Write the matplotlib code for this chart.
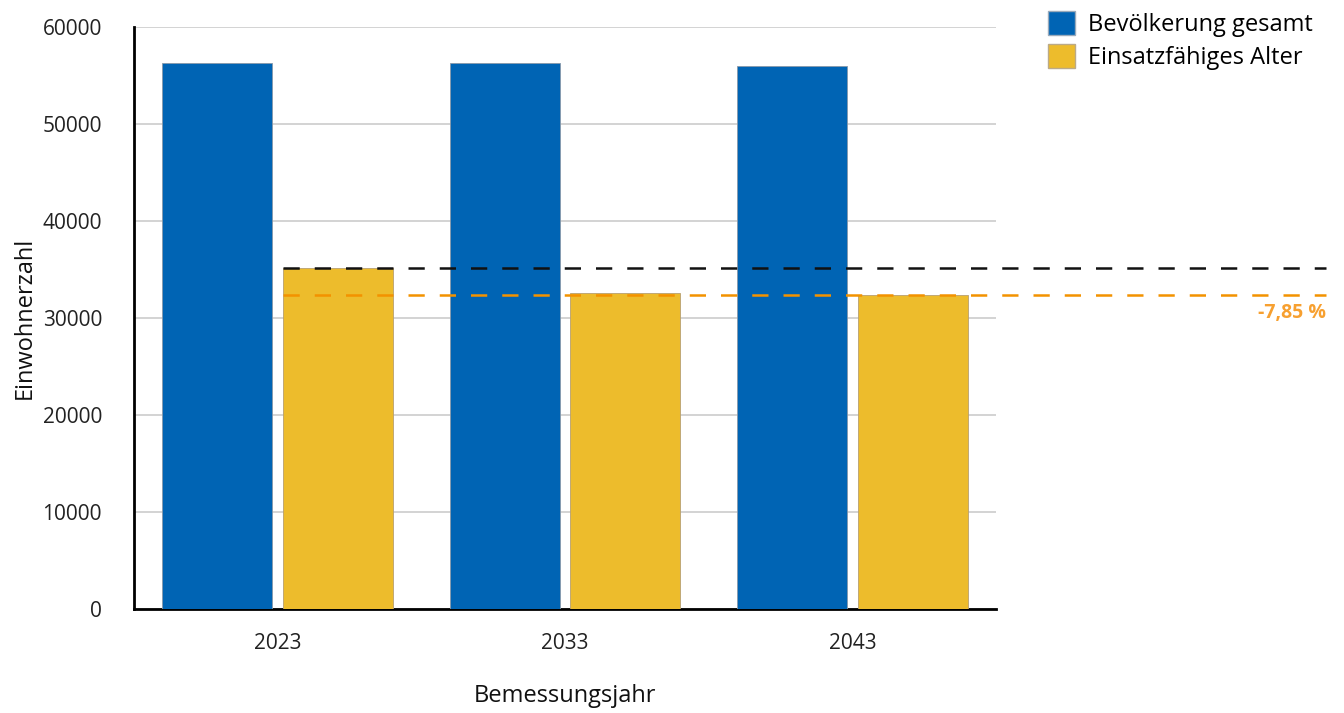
import matplotlib
matplotlib.use("Agg")
import matplotlib.pyplot as plt
import numpy as np
from matplotlib.patches import Patch

years = ["2023", "2033", "2043"]
bev_gesamt = [56300, 56300, 56000]
einsatz_alter = [35150, 32600, 32390]
change_label = "-7,85 %"

blue = "#0064b4"
yellow = "#edbc2c"
orange = "#f39200"

plt.rcParams["font.family"] = ["Open Sans", "DejaVu Sans"]

fig = plt.figure(figsize=(13.44, 7.13), dpi=100)
ax = fig.add_axes([0.0997, 0.146, 0.6414, 0.816])

x = np.arange(len(years))
w = 0.383
off = 0.21
ax.bar(x - off, bev_gesamt, w, color=blue, edgecolor="#8899aa", linewidth=0.6, zorder=3)
ax.bar(x + off, einsatz_alter, w, color=yellow, edgecolor="#b8a070", linewidth=0.6, zorder=3)

ax.set_xlim(-0.5, 2.5)
ax.set_ylim(0, 60000)
ax.set_yticks(range(0, 60001, 10000))
ax.set_xticks(x)
ax.set_xticklabels(years)
ax.yaxis.grid(True, color="#cccccc", linewidth=1.2, zorder=0)
ax.set_axisbelow(True)
for s in ["top", "right"]:
    ax.spines[s].set_visible(False)
ax.spines["left"].set_linewidth(2)
ax.spines["bottom"].set_linewidth(2)
ax.tick_params(length=0, labelsize=15, labelcolor="#222222")
ax.tick_params(axis="y", pad=23)
ax.tick_params(axis="x", pad=17)

ax.set_xlabel("Bemessungsjahr", fontsize=17, labelpad=22, color="#111111")
ax.set_ylabel("Einwohnerzahl", fontsize=17, color="#111111")
ax.yaxis.set_label_coords(-0.113, 0.5)

# Referenzlinien ab Balken 2023 bis rechts neben das Diagramm
x0 = x[0] + off - w / 2
x1 = 3.65
ax.hlines(einsatz_alter[0], x0, x1, colors="#111111", linewidth=1.8,
          linestyles=(0, (6.5, 6)), clip_on=False, zorder=4)
ax.hlines(einsatz_alter[-1], x0, x1, colors=orange, linewidth=1.8,
          linestyles=(0, (6.5, 6)), clip_on=False, zorder=4)
ax.text(x1, einsatz_alter[-1] - 1900, change_label, color="#f7a030",
        fontsize=14, fontweight="bold", ha="right", va="center", clip_on=False)

handles = [Patch(facecolor=blue, edgecolor="#99aabb", label="Bevölkerung gesamt"),
           Patch(facecolor=yellow, edgecolor="#bbaa88", label="Einsatzfähiges Alter")]
fig.legend(handles=handles, loc="upper left", bbox_to_anchor=(0.764, 1.014),
           frameon=False, fontsize=17, handlelength=1.15, handleheight=1.15,
           handletextpad=0.55, labelspacing=0.3)

fig.savefig("out.png", dpi=100)
